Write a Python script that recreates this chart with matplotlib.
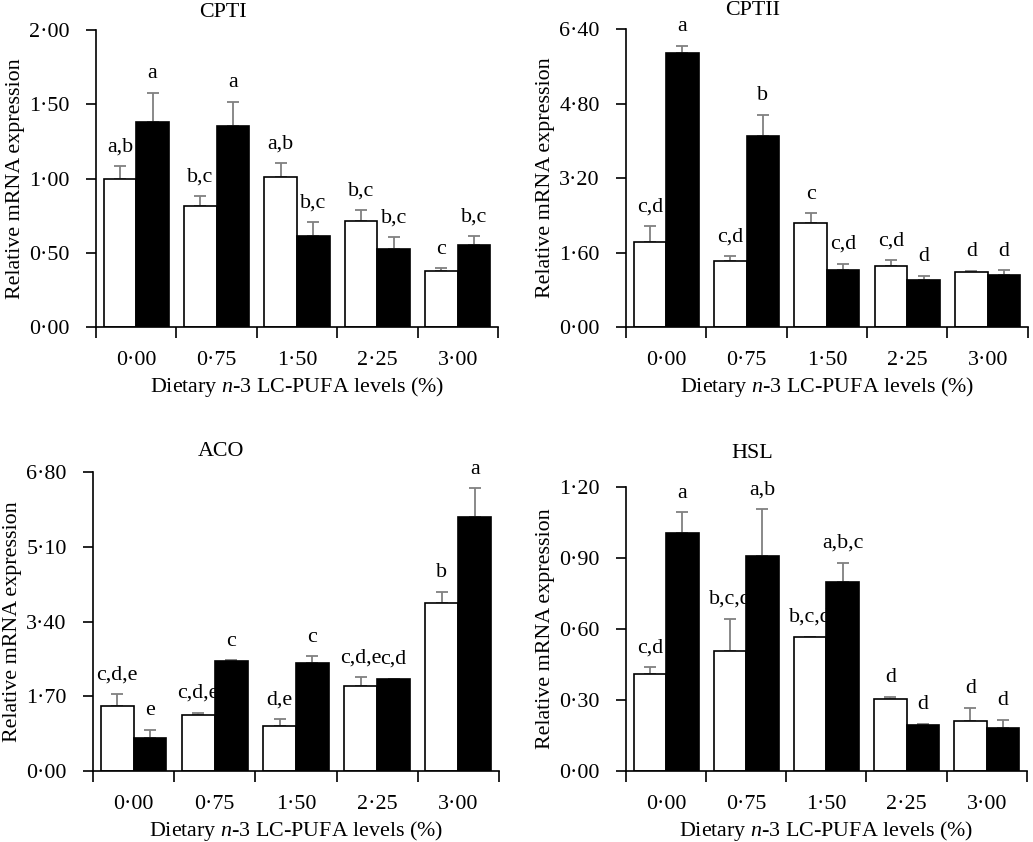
import numpy as np
from matplotlib import pyplot as plt

plt.rcParams['font.family'] = ['Liberation Serif', 'DejaVu Serif']
plt.rcParams['mathtext.fontset'] = 'custom'
plt.rcParams['mathtext.rm'] = 'Liberation Serif'
plt.rcParams['mathtext.it'] = 'Liberation Serif:italic'
fs = 15.8

levels = ['0·00', '0·75', '1·50', '2·25', '3·00']

# CPTI
cpt1_white = [1.00, 0.816, 1.009, 0.717, 0.375]
cpt1_white_err = [0.085, 0.067, 0.094, 0.072, 0.021]
cpt1_black = [1.378, 1.357, 0.616, 0.528, 0.555]
cpt1_black_err = [0.200, 0.160, 0.090, 0.076, 0.058]
cpt1_white_sig = ['a,b', 'b,c', 'a,b', 'b,c', 'c']
cpt1_black_sig = ['a', 'a', 'b,c', 'b,c', 'b,c']
cpt1_ticks = [0, 0.5, 1.0, 1.5, 2.0]

# CPTII
cpt2_white = [1.83, 1.42, 2.24, 1.31, 1.18]
cpt2_white_err = [0.33, 0.11, 0.20, 0.12, 0.03]
cpt2_black = [5.88, 4.11, 1.23, 1.01, 1.11]
cpt2_black_err = [0.16, 0.44, 0.13, 0.09, 0.11]
cpt2_white_sig = ['c,d', 'c,d', 'c', 'c,d', 'd']
cpt2_black_sig = ['a', 'b', 'c,d', 'd', 'd']
cpt2_ticks = [0, 1.6, 3.2, 4.8, 6.4]

# ACO
aco_white = [1.48, 1.27, 1.03, 1.93, 3.83]
aco_white_err = [0.27, 0.06, 0.15, 0.21, 0.25]
aco_black = [0.76, 2.50, 2.45, 2.09, 5.79]
aco_black_err = [0.17, 0.02, 0.16, 0.01, 0.64]
aco_white_sig = ['c,d,e', 'c,d,e', 'd,e', 'c,d,e', 'b']
aco_black_sig = ['e', 'c', 'c', 'c,d', 'a']
aco_ticks = [0, 1.7, 3.4, 5.1, 6.8]

# HSL
hsl_white = [0.411, 0.508, 0.566, 0.304, 0.212]
hsl_white_err = [0.027, 0.137, 0.002, 0.009, 0.056]
hsl_black = [1.008, 0.911, 0.800, 0.196, 0.184]
hsl_black_err = [0.086, 0.197, 0.081, 0.002, 0.031]
hsl_white_sig = ['c,d', 'b,c,d', 'b,c,d', 'd', 'd']
hsl_black_sig = ['a', 'a,b', 'a,b,c', 'd', 'd']
hsl_ticks = [0, 0.3, 0.6, 0.9, 1.2]

fig = plt.figure(figsize=(10.33, 8.42), dpi=100)

panels = [
    ('CPTI', [0.093, 0.6116, 0.389, 0.3527], cpt1_white, cpt1_white_err, cpt1_black, cpt1_black_err,
     cpt1_white_sig, cpt1_black_sig, cpt1_ticks, 13),
    ('CPTII', [0.606, 0.6116, 0.389, 0.3539], cpt2_white, cpt2_white_err, cpt2_black, cpt2_black_err,
     cpt2_white_sig, cpt2_black_sig, cpt2_ticks, 13),
    ('ACO', [0.090, 0.0843, 0.393, 0.355], aco_white, aco_white_err, aco_black, aco_black_err,
     aco_white_sig, aco_black_sig, aco_ticks, 14.5),
    ('HSL', [0.606, 0.0843, 0.388, 0.337], hsl_white, hsl_white_err, hsl_black, hsl_black_err,
     hsl_white_sig, hsl_black_sig, hsl_ticks, 24.5),
]

x = np.arange(len(levels))
w = 0.405
for title, rect, wv, we, bv, be, ws, bs, ticks, tpad in panels:
    ax = fig.add_axes(rect)
    ax.bar(x - w / 2, wv, w, color='white', edgecolor='black', linewidth=1.2, zorder=2)
    ax.bar(x + w / 2, bv, w, color='black', edgecolor='black', linewidth=1.2, zorder=2)
    ax.errorbar(x - w / 2, wv, yerr=[np.zeros(5), we], fmt='none', ecolor='#808080',
                elinewidth=1.3, capsize=4, capthick=1.3, zorder=1)
    ax.errorbar(x + w / 2, bv, yerr=[np.zeros(5), be], fmt='none', ecolor='#808080',
                elinewidth=1.3, capsize=4, capthick=1.3, zorder=1)
    for i in range(5):
        ax.annotate(ws[i], (x[i] - w / 2, wv[i] + we[i]), xytext=(0, 7), textcoords='offset points',
                    ha='center', va='bottom', fontsize=fs)
        ax.annotate(bs[i], (x[i] + w / 2, bv[i] + be[i]), xytext=(0, 7), textcoords='offset points',
                    ha='center', va='bottom', fontsize=fs)
    ax.set_xlim(-0.5, 4.5)
    ax.set_ylim(0, ticks[-1])
    ax.set_yticks(ticks)
    ax.set_yticklabels([f'{t:.2f}'.replace('.', '·') for t in ticks], fontsize=fs)
    ax.set_xticks(x)
    ax.set_xticklabels(levels, fontsize=fs)
    ax.set_xticks(np.arange(-0.5, 5, 1), minor=True)
    ax.tick_params(axis='x', which='major', length=0, pad=17)
    ax.tick_params(axis='x', which='minor', length=8, width=1.2, direction='out')
    ax.tick_params(axis='y', length=7, width=1.2, direction='out', pad=12)
    for s in ['top', 'right']:
        ax.spines[s].set_visible(False)
    for s in ['left', 'bottom']:
        ax.spines[s].set_linewidth(1.2)
    ax.set_ylabel('Relative mRNA expression', fontsize=fs, labelpad=3)
    ax.set_xlabel('Dietary $\\it{n}$-3 LC-PUFA levels (%)', fontsize=fs, labelpad=4)
    ax.annotate(title, (0.315, 1), xycoords='axes fraction', xytext=(0, tpad),
                textcoords='offset points', ha='center', va='center', fontsize=fs)

fig.savefig('out.png', dpi=100)
